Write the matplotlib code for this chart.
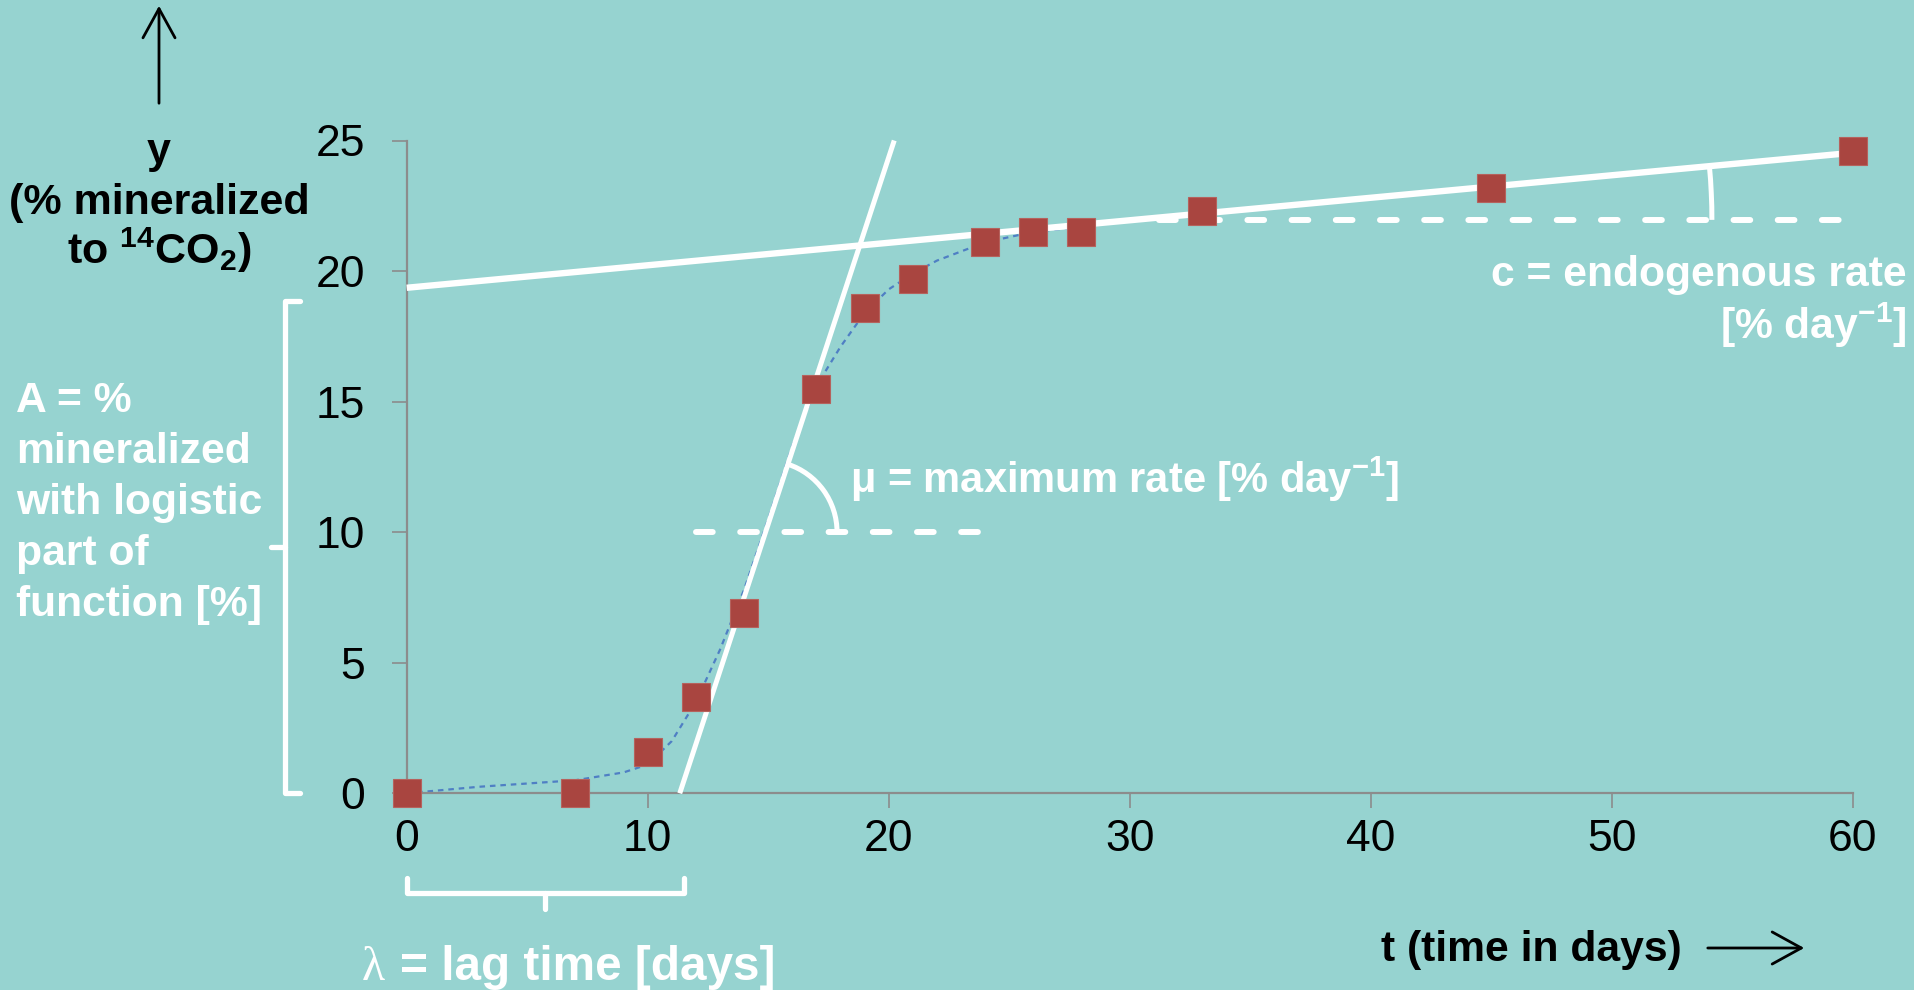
import matplotlib
matplotlib.use('Agg')
import matplotlib.pyplot as plt
import numpy as np
from matplotlib.patches import Arc, FancyArrowPatch
from matplotlib.transforms import IdentityTransform

plt.rcParams['font.family'] = ['Liberation Sans', 'DejaVu Sans']
plt.rcParams['mathtext.fontset'] = 'custom'
plt.rcParams['mathtext.rm'] = 'Liberation Sans'
plt.rcParams['mathtext.bf'] = 'Liberation Sans:bold'
plt.rcParams['mathtext.it'] = 'Liberation Sans:italic'

# ---------------- data ----------------
days = [0, 7, 10, 12, 14, 17, 19, 21, 24, 26, 28, 33, 45, 60]
mineralized = [0, 0, 1.6, 3.7, 6.9, 15.5, 18.6, 19.7, 21.1, 21.5, 21.5, 22.3, 23.2, 24.6]

fit_days = [0, 3, 7, 9, 10, 11, 12, 13, 14, 15, 16, 17, 18, 19, 20, 21, 22, 24, 26, 28]
fit_values = [0, 0.25, 0.5, 0.8, 1.1, 2.0, 3.5, 5.5, 7.8, 10.5, 13.3, 15.6, 17.1, 18.4,
              19.3, 19.9, 20.4, 21.1, 21.5, 21.7]

max_rate_x = [11.33, 20.23]
max_rate_y = [0, 25]
endo_x = [0, 60]
endo_y = [19.36, 24.53]
mu_ref_x = [12.0, 24.2]
mu_ref_y = [10, 10]
c_ref_x = [31.2, 60]
c_ref_y = [21.96, 21.96]
lag_time = 11.5
A_top = 18.87

xticks = [0, 10, 20, 30, 40, 50, 60]
yticks = [0, 5, 10, 15, 20, 25]

ylabel_lines = ['y', '(% mineralized', 'to $^{\\mathbf{14}}$CO$_{\\mathbf{2}}$)']
A_lines = ['A = %', 'mineralized', 'with logistic', 'part of', 'function [%]']
c_lines = ['c = endogenous rate', '[% day$^{\\mathbf{-1}}$]']
mu_text = 'μ = maximum rate [% day$^{\\mathbf{-1}}$]'
lag_text = '= lag time [days]'
t_text = 't (time in days)'

# ---------------- style ----------------
BG = '#96D3D0'
RED = '#A94540'
WHITE = 'white'
GRAY = '#8C8C8C'
W, H = 1915, 990
FS = 30.7

def fx(px):
    return px / W

def fy(py):
    return 1 - py / H

fig = plt.figure(figsize=(W / 100, H / 100), dpi=100, facecolor=BG)
ax = fig.add_axes([fx(406.7), fy(793.3), (1852.7 - 406.7) / W, (793.3 - 140.5) / H])
ax.set_facecolor(BG)
ax.set_xlim(0, 60)
ax.set_ylim(0, 25)
for s in ['top', 'right']:
    ax.spines[s].set_visible(False)
for s in ['left', 'bottom']:
    ax.spines[s].set_color(GRAY)
    ax.spines[s].set_linewidth(1.6)
ax.set_xticks(xticks)
ax.set_yticks(yticks)
ax.tick_params(length=10.8, width=1.2, color=GRAY, labelsize=32, labelcolor='black')
ax.tick_params(axis='y', pad=19)
ax.tick_params(axis='x', pad=8)

# fitted dotted curve
ax.plot(fit_days, fit_values, color='#4F7FC4', lw=1.6, ls=(0, (2.5, 2.2)), zorder=2)

# white construction lines
ax.plot(max_rate_x, max_rate_y, color=WHITE, lw=3.6, solid_capstyle='butt', zorder=3, clip_on=False)
ax.plot(endo_x, endo_y, color=WHITE, lw=4.6, solid_capstyle='butt', zorder=3, clip_on=False)
ax.plot(mu_ref_x, mu_ref_y, color=WHITE, lw=4.3, dash_capstyle='round',
        dashes=(2.8, 4.6), zorder=3)
ax.plot(c_ref_x, c_ref_y, color=WHITE, lw=4.3, dash_capstyle='round',
        dashes=(2.8, 4.6), zorder=3, clip_on=False)

# markers
ax.plot(days, mineralized, ls='none', marker='s', ms=19.5, mfc=RED, mec='#B5625D',
        mew=0.8, zorder=5, clip_on=False)

# brackets (outside the axes)
bx = -5.05
ax.plot([bx + 0.63, bx, bx, bx + 0.63], [A_top, A_top, 0, 0], color=WHITE, lw=3.8,
        solid_joinstyle='round', solid_capstyle='round', clip_on=False)
ax.plot([bx, bx - 0.57], [A_top / 2, A_top / 2], color=WHITE, lw=3.8,
        solid_capstyle='round', clip_on=False)
by = -3.81
ax.plot([0, 0, lag_time, lag_time], [by + 0.57, by, by, by + 0.57], color=WHITE, lw=3.8,
        solid_joinstyle='round', solid_capstyle='round', clip_on=False)
ax.plot([lag_time / 2, lag_time / 2], [by, by - 0.62], color=WHITE, lw=3.8,
        solid_capstyle='round', clip_on=False)

fig.canvas.draw()

# angle arcs (drawn in pixel space so they are circular)
def pixel_arc(x0, y0, x1, y1, xc, yc, radius):
    cx, cy = ax.transData.transform((xc, yc))
    p0 = ax.transData.transform((x0, y0))
    p1 = ax.transData.transform((x1, y1))
    ang = np.degrees(np.arctan2(p1[1] - p0[1], p1[0] - p0[0]))
    arc = Arc((cx, cy), 2 * radius, 2 * radius, theta1=0, theta2=ang,
              transform=IdentityTransform(), color=WHITE, lw=3.6, zorder=4)
    fig.add_artist(arc)

slope_mu = (max_rate_y[1] - max_rate_y[0]) / (max_rate_x[1] - max_rate_x[0])
xc_mu = max_rate_x[0] + (mu_ref_y[0] - max_rate_y[0]) / slope_mu
pixel_arc(max_rate_x[0], max_rate_y[0], max_rate_x[1], max_rate_y[1], xc_mu, mu_ref_y[0], 71.5)

slope_c = (endo_y[1] - endo_y[0]) / (endo_x[1] - endo_x[0])
xc_c = endo_x[0] + (c_ref_y[0] - endo_y[0]) / slope_c
pixel_arc(endo_x[0], endo_y[0], endo_x[1], endo_y[1], xc_c, c_ref_y[0], 578)

# ---------------- texts ----------------
for line, base in zip(ylabel_lines, [163, 214, 264]):
    fig.text(fx(159), fy(base), line, ha='center', va='baseline', fontsize=31,
             fontweight='bold', color='black')

for i, line in enumerate(A_lines):
    fig.text(fx(16), fy(412 + 51 * i), line, ha='left', va='baseline', fontsize=FS,
             fontweight='bold', color=WHITE)

for line, base in zip(c_lines, [286, 339]):
    fig.text(fx(1907), fy(base), line, ha='right', va='baseline', fontsize=FS,
             fontweight='bold', color=WHITE)

fig.text(fx(850), fy(479), mu_text, ha='left', va='center', fontsize=30,
         fontweight='bold', color=WHITE)

fig.text(fx(362), fy(980), 'λ', ha='left', va='baseline', fontsize=34.4,
         family=['Liberation Serif', 'DejaVu Serif'], color=WHITE)
fig.text(fx(400), fy(980), lag_text, ha='left', va='baseline', fontsize=34.4,
         fontweight='bold', color=WHITE)

fig.text(fx(1381), fy(950), t_text, ha='left', va='center', fontsize=FS,
         fontweight='bold', color='black')

# arrows
arr_right = FancyArrowPatch((fx(1705), fy(948)), (fx(1807), fy(948)),
                            transform=fig.transFigure,
                            arrowstyle='->,head_length=1.0,head_width=0.55',
                            mutation_scale=21, color='black', lw=2.0)
fig.add_artist(arr_right)
arr_up = FancyArrowPatch((fx(159), fy(106)), (fx(159), fy(3)),
                         transform=fig.transFigure,
                         arrowstyle='->,head_length=1.0,head_width=0.55',
                         mutation_scale=21, color='black', lw=2.0)
fig.add_artist(arr_up)

fig.savefig('out.png', dpi=100, facecolor=BG)
